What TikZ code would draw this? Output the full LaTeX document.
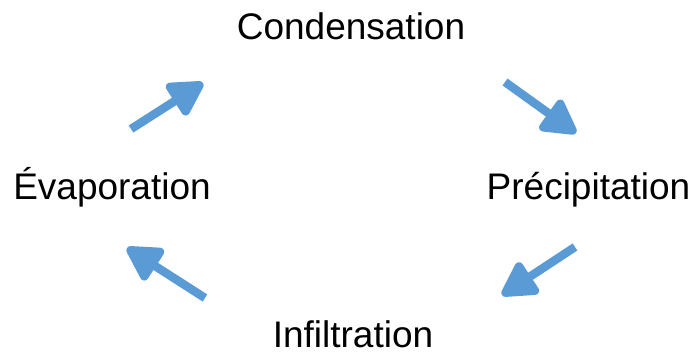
\documentclass[tikz,border=0pt]{standalone}
\usepackage{fontspec}
\setmainfont{Liberation Sans}
\usetikzlibrary{arrows.meta}
\definecolor{cycleblue}{RGB}{91,155,213}

\begin{document}
\begin{tikzpicture}[x=1pt,y=-1pt, >={Triangle[length=39pt,width=41pt,round]}]
				\tikzstyle{every node}=[anchor=base, inner sep=0pt, font=\fontsize{37}{44}\selectfont]
				\tikzstyle{step arrow}=[->, draw=cycleblue, fill=cycleblue, line width=8.5pt]
				\useasboundingbox (0,0) rectangle (694,358);
				%Stages
				\node(cond) at (351,40){Condensation};
				\node(prec) at (588.5,200){Précipitation};
				\node(infl) at (353,348){Infiltration};
				\node(evap) at (112,200){Évaporation};
				%Arrow ends
				\coordinate(a1) at (505,82);   \coordinate(b1) at (576,133);
				\coordinate(a2) at (575,247);  \coordinate(b2) at (502,295);
				\coordinate(a3) at (205,298);  \coordinate(b3) at (127,248);
				\coordinate(a4) at (131,129);  \coordinate(b4) at (203,83);
				%Arrows
				\draw[step arrow](a1) -- (b1);
				\draw[step arrow](a2) -- (b2);
				\draw[step arrow](a3) -- (b3);
				\draw[step arrow](a4) -- (b4);
\end{tikzpicture}
\end{document}
